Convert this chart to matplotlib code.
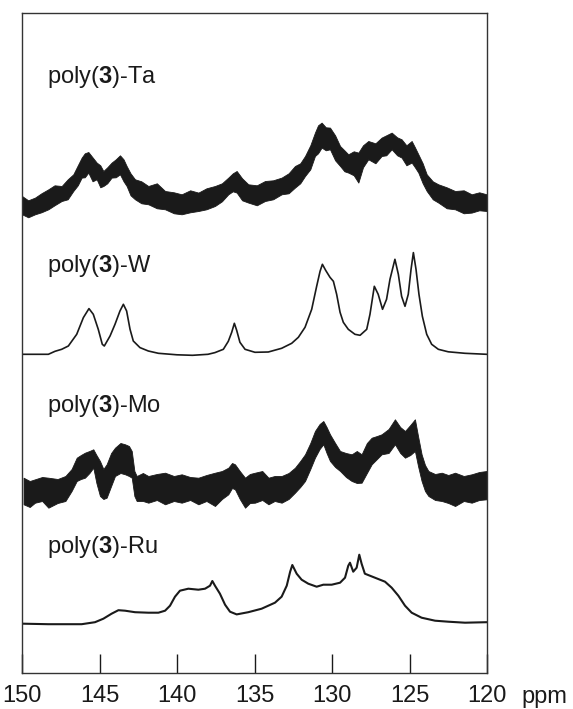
import matplotlib
matplotlib.use("Agg")
import matplotlib.pyplot as plt
import numpy as np

plt.rcParams['font.family'] = ['Liberation Sans', 'DejaVu Sans']
plt.rcParams['mathtext.fontset'] = 'custom'
plt.rcParams['mathtext.rm'] = 'Liberation Sans'
plt.rcParams['mathtext.bf'] = 'Liberation Sans:bold'

# ---------------- data (chemical shift, ppm) ----------------
# poly(3)-Ta : noisy trace, read as upper / lower envelope of the noise band
ta_ppm = [150.0, 149.6, 149.16, 148.75, 148.30, 147.9, 147.44, 147.05, 146.69, 146.4,
          146.15, 145.95, 145.72, 145.45, 145.18, 144.95, 144.75, 144.5, 144.22, 143.95,
          143.68, 143.45, 143.25, 143.0, 142.71, 142.3, 141.85, 141.3, 140.77, 140.2,
          139.70, 139.15, 138.62, 138.1, 137.55, 137.1, 136.69, 136.4, 136.15, 135.8,
          135.40, 134.85, 134.32, 133.8, 133.25, 132.8, 132.39, 132.05, 131.74, 131.4,
          131.10, 130.9, 130.67, 130.4, 130.13, 129.8, 129.48, 129.2, 128.95, 128.6,
          128.30, 128.0, 127.66, 127.2, 126.80, 126.5, 126.15, 125.8, 125.51, 125.2,
          124.86, 124.65, 124.43, 124.15, 123.89, 123.5, 123.14, 122.6, 122.06, 121.5,
          120.99, 120.5, 120.02]
ta_upper = [9.3, 5.0, 7.7, 12.0, 16.0, 20.0, 19.3, 26.0, 31.0, 40.0,
            47.7, 52.0, 53.3, 48.0, 42.7, 40.0, 34.3, 38.0, 42.7, 46.0,
            50.0, 46.0, 39.3, 32.0, 26.0, 24.0, 19.3, 22.0, 14.3, 13.0,
            11.0, 15.0, 12.7, 17.0, 19.3, 22.0, 27.7, 32.0, 34.3, 27.0,
            21.0, 20.0, 24.3, 25.0, 27.7, 32.0, 39.3, 42.0, 49.3, 60.0,
            72.7, 80.0, 82.7, 78.0, 77.7, 70.0, 59.3, 55.0, 51.0, 54.0,
            52.7, 60.0, 64.3, 62.0, 67.7, 70.0, 72.7, 68.0, 66.0, 60.0,
            64.3, 58.0, 51.0, 42.0, 31.0, 24.0, 21.0, 18.0, 14.3, 15.0,
            11.0, 13.0, 11.0]
ta_lower = [-9.0, -12.0, -9.0, -7.0, -4.0, 0.0, 4.3, 6.0, 14.3, 20.0,
            27.7, 28.0, 32.7, 24.0, 26.0, 18.0, 19.3, 22.0, 27.7, 28.0,
            31.0, 24.0, 19.3, 10.0, 6.0, 2.0, 1.0, -3.0, -4.0, -8.0,
            -9.0, -7.0, -5.7, -4.0, -0.7, 4.0, 11.0, 14.0, 12.7, 5.0,
            2.7, 0.0, 4.3, 6.0, 11.0, 12.0, 17.7, 22.0, 29.3, 36.0,
            49.3, 52.0, 57.7, 55.0, 56.0, 45.0, 39.3, 34.0, 32.7, 30.0,
            22.7, 38.0, 46.0, 42.0, 49.3, 50.0, 56.0, 50.0, 47.7, 40.0,
            42.7, 38.0, 32.7, 22.0, 14.3, 6.0, 2.7, -3.0, -4.0, -8.0,
            -7.3, -5.0, -5.7]

# poly(3)-W : clean trace
w_ppm = [150.0, 148.3, 147.87, 147.44, 147.01, 146.47, 146.04, 145.68, 145.40, 145.08,
         144.82, 144.69, 144.32, 144.0, 143.68, 143.46, 143.25, 143.03, 142.82, 142.39,
         141.85, 141.2, 140.0, 139.0, 138.0, 137.55, 137.01, 136.69, 136.47, 136.3,
         136.15, 135.94, 135.61, 134.97, 134.11, 133.25, 132.6, 132.17, 131.74, 131.31,
         130.99, 130.77, 130.62, 130.41, 130.13, 129.91, 129.70, 129.48, 129.27, 128.95,
         128.52, 128.19, 127.76, 127.55, 127.27, 127.02, 126.74, 126.48, 126.26, 125.94,
         125.72, 125.51, 125.29, 125.08, 124.9, 124.75, 124.58, 124.39, 124.17, 123.89,
         123.57, 123.14, 122.5, 121.42, 120.02]
w_int = [0.0, 0.0, 3.0, 5.0, 8.3, 20.0, 36.7, 45.7, 40.0, 25.0,
         10.0, 8.3, 18.3, 30.0, 43.3, 50.0, 43.3, 25.0, 13.3, 6.7,
         3.3, 1.0, -0.5, -1.0, 0.0, 1.7, 5.0, 13.0, 22.0, 31.0,
         24.0, 12.0, 5.0, 2.0, 2.3, 6.0, 11.0, 17.0, 27.0, 45.0,
         68.0, 83.0, 90.0, 84.0, 77.0, 73.0, 60.0, 42.0, 32.0, 25.0,
         20.0, 19.0, 25.0, 40.0, 68.0, 60.0, 45.0, 55.0, 75.0, 95.0,
         80.0, 58.0, 48.0, 60.0, 85.0, 101.7, 85.0, 60.0, 38.0, 20.0,
         10.0, 5.0, 2.5, 1.0, 0.0]

# poly(3)-Mo : noisy trace, upper / lower envelope
mo_ppm = [149.9, 149.5, 149.16, 148.7, 148.3, 147.7, 147.2, 146.8, 146.47, 146.2,
          145.94, 145.65, 145.4, 145.2, 144.97, 144.75, 144.54, 144.25, 144.0, 143.65,
          143.35, 143.1, 142.92, 142.75, 142.6, 142.2, 141.85, 141.3, 140.77, 140.2,
          139.7, 139.15, 138.62, 138.1, 137.55, 137.1, 136.69, 136.45, 136.26, 135.95,
          135.61, 135.3, 134.97, 134.5, 134.1, 133.7, 133.25, 132.8, 132.39, 132.05,
          131.74, 131.4, 131.1, 130.8, 130.56, 130.35, 130.13, 129.8, 129.48, 129.1,
          128.73, 128.4, 128.09, 127.75, 127.44, 127.1, 126.8, 126.35, 125.94, 125.6,
          125.29, 124.95, 124.65, 124.45, 124.22, 124.0, 123.78, 123.35, 122.92, 122.5,
          122.06, 121.5, 120.99, 120.5, 120.02]
mo_upper = [13.3, 10.0, 11.7, 14.0, 13.3, 12.0, 15.0, 22.0, 33.3, 36.0,
            38.3, 40.0, 41.7, 36.0, 30.0, 22.0, 26.7, 38.0, 43.3, 48.0,
            46.7, 45.0, 40.0, 20.0, 15.0, 18.0, 15.0, 17.0, 18.3, 15.0,
            16.7, 14.0, 13.3, 16.0, 18.3, 20.0, 23.3, 28.0, 26.7, 20.0,
            13.3, 17.0, 18.3, 20.0, 13.3, 15.0, 15.0, 18.0, 23.3, 30.0,
            36.7, 48.0, 60.0, 67.0, 70.0, 64.0, 56.7, 48.0, 40.0, 38.0,
            36.7, 40.0, 36.7, 48.0, 53.3, 55.0, 56.7, 62.0, 71.7, 64.0,
            60.0, 66.0, 71.7, 55.0, 36.7, 26.0, 20.0, 17.0, 18.3, 16.0,
            18.3, 15.0, 16.7, 19.0, 20.0]
mo_lower = [-13.3, -16.0, -11.7, -10.0, -16.7, -12.0, -10.0, 0.0, 10.0, 12.0,
            13.3, 18.0, 23.3, 8.0, -5.0, -8.0, -6.7, 5.0, 15.0, 18.0,
            16.7, 15.0, 13.3, -5.0, -10.0, -10.0, -11.7, -9.0, -13.3, -10.0,
            -11.7, -9.0, -13.3, -10.0, -15.0, -8.0, -3.3, 3.0, 1.7, -8.0,
            -16.7, -12.0, -11.7, -9.0, -13.3, -10.0, -11.7, -8.0, -1.7, 4.0,
            10.0, 22.0, 33.3, 42.0, 46.7, 38.0, 30.0, 24.0, 20.0, 14.0,
            10.0, 8.0, 8.3, 18.0, 26.7, 32.0, 36.7, 38.0, 46.7, 38.0,
            33.3, 36.0, 40.0, 25.0, 10.0, 0.0, -5.0, -9.0, -10.0, -12.0,
            -15.0, -10.0, -11.7, -9.0, -8.3]

# poly(3)-Ru : clean trace
ru_ppm = [149.9, 148.3, 146.15, 145.29, 144.75, 144.22, 143.78, 143.35, 142.71, 141.85,
          141.2, 140.77, 140.45, 140.13, 139.81, 139.27, 138.62, 138.19, 137.87, 137.72,
          137.55, 137.23, 136.9, 136.58, 136.15, 135.4, 134.54, 133.68, 133.25, 132.92,
          132.7, 132.56, 132.28, 131.96, 131.53, 130.99, 130.56, 130.02, 129.48, 129.16,
          128.95, 128.84, 128.63, 128.41, 128.24, 128.09, 127.88, 127.23, 126.58, 126.15,
          125.72, 125.29, 124.86, 124.22, 123.35, 122.5, 121.42, 120.02]
ru_int = [0.0, -0.5, -0.5, 1.5, 5.0, 10.0, 13.5, 13.0, 11.5, 11.0,
          11.0, 13.0, 18.0, 27.0, 33.0, 35.0, 34.0, 35.0, 38.0, 42.7,
          38.0, 30.0, 19.0, 12.0, 9.3, 11.5, 15.0, 21.0, 27.0, 38.0,
          52.0, 58.7, 50.0, 44.0, 40.0, 37.0, 39.0, 39.0, 41.0, 46.0,
          58.0, 61.0, 52.0, 56.0, 69.0, 60.0, 50.0, 46.0, 42.0, 36.0,
          28.0, 18.0, 11.0, 6.0, 3.0, 2.0, 1.0, 1.5]

labels = ['Ta', 'W', 'Mo', 'Ru']
xticks = [150, 145, 140, 135, 130, 125, 120]
xtick_labels = ['150', '145', '140', '135', '130', '125', '120']

# ---------------- layout ----------------
offsets = {'Ta': 467.7, 'W': 318.7, 'Mo': 182.0, 'Ru': 49.3}
label_y = {'Ta': 590.3, 'W': 401.0, 'Mo': 261.3, 'Ru': 120.3}

fig = plt.figure(figsize=(5.73, 7.09), dpi=100)
ax = fig.add_axes([22/573, 36/709, 465/573, 660/709])
ax.set_xlim(150, 120)
ax.set_ylim(0, 660)

ink = '#1a1a1a'
ax.fill_between(ta_ppm, np.array(ta_lower) + offsets['Ta'], np.array(ta_upper) + offsets['Ta'],
                color=ink, linewidth=0.6, edgecolor=ink)
ax.plot(w_ppm, np.array(w_int) + offsets['W'], color=ink, lw=1.2)
ax.fill_between(mo_ppm, np.array(mo_lower) + offsets['Mo'], np.array(mo_upper) + offsets['Mo'],
                color=ink, linewidth=0.6, edgecolor=ink)
ax.plot(ru_ppm, np.array(ru_int) + offsets['Ru'], color=ink, lw=1.5)

for lab in labels:
    ax.text(148.4, label_y[lab], r'poly($\mathbf{3}$)-' + lab, fontsize=17,
            ha='left', va='baseline', color=ink)

ax.set_yticks([])
ax.set_xticks(xticks)
ax.set_xticklabels(xtick_labels, fontsize=17)
ax.tick_params(axis='x', direction='in', length=14, width=1.0, pad=9, colors=ink)
for s in ax.spines.values():
    s.set_linewidth(1.0)
    s.set_color('#333333')

fig.text(521/573, 1 - 703/709, 'ppm', fontsize=17, ha='left', va='baseline', color=ink)

fig.savefig('out.png', dpi=100)
